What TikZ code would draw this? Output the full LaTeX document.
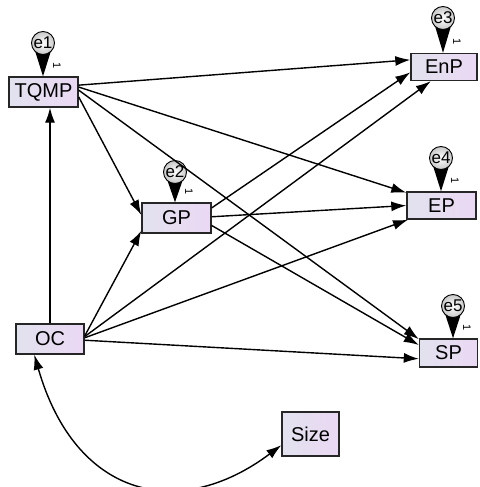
\documentclass[tikz,border=0pt]{standalone}
\usepackage{fontspec}
\setmainfont{Liberation Sans}
\usetikzlibrary{arrows.meta}
\definecolor{boxL}{HTML}{E2E2EE}
\definecolor{boxR}{HTML}{EAD8F4}
\definecolor{errC}{HTML}{C8C8C8}
\begin{document}
\begin{tikzpicture}[x=1pt,y=-1pt,
  var/.style={draw=black!85, line width=1.4pt, left color=boxL, right color=boxR,
    font=\fontsize{20}{22}\selectfont, inner sep=0pt},
  err/.style={circle, draw=black, line width=0.9pt, inner color=white, outer color=errC,
    minimum size=23pt, inner sep=0pt, font=\fontsize{17}{17}\selectfont},
  conn/.style={line width=1.4pt, -{Latex[length=15pt,width=10pt]}},
  one/.style={font=\fontsize{11}{11}\selectfont, rotate=-90, inner sep=0pt}]
\useasboundingbox (0,0) rectangle (479,487);

% variables
\node[var, minimum width=69pt, minimum height=30pt] (tqmp) at (43.5,92) {TQMP};
\node[var, minimum width=69pt, minimum height=30pt] (gp) at (176.5,218) {GP};
\node[var, minimum width=66pt, minimum height=27pt] (enp) at (444,67) {EnP};
\node[var, minimum width=69pt, minimum height=27pt] (ep) at (441.5,205.5) {EP};
\node[var, minimum width=58pt, minimum height=28pt] (sp) at (448.5,353) {SP};
\node[var, minimum width=68pt, minimum height=30pt] (oc) at (50,339) {OC};
\node[var, minimum width=57pt, minimum height=44pt] (size) at (310.5,434) {Size};

% error terms
\coordinate (c1) at (43,43);
\coordinate (c2) at (175,172);
\coordinate (c3) at (443,18);
\coordinate (c4) at (441,158);
\coordinate (c5) at (453,306);
\fill ([shift={(-9.5,3)}]c1) -- ([shift={(9.5,3)}]c1) -- (c1 |- tqmp.north) -- cycle;
\fill ([shift={(-9.5,3)}]c2) -- ([shift={(9.5,3)}]c2) -- (c2 |- gp.north) -- cycle;
\fill ([shift={(-9.5,3)}]c3) -- ([shift={(9.5,3)}]c3) -- (c3 |- enp.north) -- cycle;
\fill ([shift={(-9.5,3)}]c4) -- ([shift={(9.5,3)}]c4) -- (c4 |- ep.north) -- cycle;
\fill ([shift={(-9.5,3)}]c5) -- ([shift={(9.5,3)}]c5) -- (c5 |- sp.north) -- cycle;
\node[err] (e1) at (c1) {e1};
\node[err] (e2) at (c2) {e2};
\node[err] (e3) at (c3) {e3};
\node[err] (e4) at (c4) {e4};
\node[err] (e5) at (c5) {e5};
\node[one] (w1) at ([shift={(14,-11)}]c1 |- tqmp.north) {1};
\node[one] (w2) at ([shift={(14,-11)}]c2 |- gp.north) {1};
\node[one] (w3) at ([shift={(14,-11)}]c3 |- enp.north) {1};
\node[one] (w4) at ([shift={(14,-11)}]c4 |- ep.north) {1};
\node[one] (w5) at ([shift={(14,-11)}]c5 |- sp.north) {1};

% paths
\draw[conn] (tqmp.11) -- (enp.168);
\draw[conn] (tqmp.8) -- (ep.160);
\draw[conn] (tqmp.3) -- (sp.155);
\draw[conn] (tqmp.-8) -- (gp.175);
\draw[conn] (oc.north) -- (oc.north |- tqmp.south);
\draw[conn] (oc.5) -- (gp.200);
\draw[conn] (oc.4) -- (enp.227);
\draw[conn] (oc.2) -- (ep.203);
\draw[conn] (oc.-2) -- (sp.191);
\draw[conn] (gp.16) -- (enp.189);
\draw[conn] (gp.2) -- (ep.180);
\draw[conn] (gp.-12) -- (sp.165);
\draw[line width=1.4pt, {Latex[length=15pt,width=10pt]}-{Latex[length=15pt,width=10pt]}]
  (oc.225) .. controls (75.5,498) and (179,522) .. (size.201);
\end{tikzpicture}
\end{document}
